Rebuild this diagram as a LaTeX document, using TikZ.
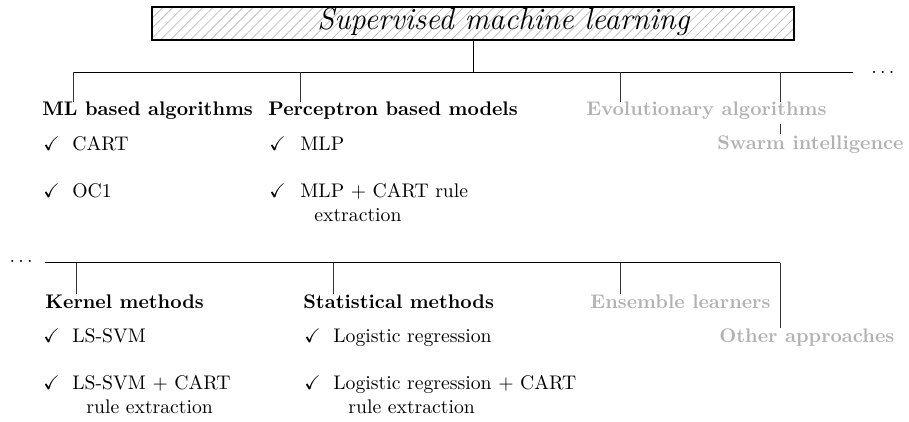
\documentclass[tikz,border=0pt]{standalone}
\usepackage{amssymb}
\usetikzlibrary{patterns.meta}
\begin{document}
\begin{tikzpicture}[x=0.5076pt,y=-0.5076pt,
  lbl/.style={inner sep=0pt,anchor=base west},
  head/.style={lbl,font=\bfseries},
  faded/.style={head,text=black!30},
  busline/.style={line width=0.5pt},
  tickline/.style={line width=0.5pt,black!80},
  dotsnode/.style={inner sep=0pt}]
\useasboundingbox (0,0) rectangle (909,421);
% root
\node[draw,line width=0.6pt,
      pattern={Lines[angle=45,distance=3.6pt,line width=0.4pt]},pattern color=black!25,
      minimum width=642*0.5076pt,minimum height=33*0.5076pt,inner sep=0pt] (root) at (473,23.5) {};
\node[inner sep=0pt,anchor=base west,font=\fontsize{15.6}{18}\selectfont\itshape] (title) at (317,29.5) {Supervised machine learning};
% upper bus
\coordinate (a0) at (73,72.5);
\coordinate (a1) at (300,72.5);
\coordinate (a2) at (620,72.5);
\coordinate (a3) at (780,72.5);
\coordinate (aE) at (853,72.5);
\node[dotsnode,anchor=west] (dotsR) at (871,72.5) {$\ldots$};
% upper headings
\node[head] (ml) at (42,116) {ML based algorithms};
\node[head] (perc) at (268,116) {Perceptron based models};
\node[faded] (evo) at (586,116) {Evolutionary algorithms};
\node[faded] (swarm) at (717,149) {Swarm intelligence};
% upper items
\node[lbl] (c11) at (43,150) {$\checkmark$};
\node[lbl] (i11) at (72,150) {CART};
\node[lbl] (c12) at (43,197.5) {$\checkmark$};
\node[lbl] (i12) at (72,197.5) {OC1};
\node[lbl] (c21) at (269,150) {$\checkmark$};
\node[lbl] (i21) at (300,150) {MLP};
\node[lbl] (c22) at (269,197.5) {$\checkmark$};
\node[lbl] (i22) at (300,197.5) {MLP $+$ CART rule};
\node[lbl] (i22b) at (314,221) {extraction};
% upper connectors
\draw[busline] (root.south) -- (root.south |- a0);
\draw[busline] (a0) -- (aE);
\draw[tickline] (a0) -- (a0 |- ml.north);
\draw[tickline] (a1) -- (a1 |- perc.north);
\draw[tickline] (a2) -- (a2 |- evo.north);
\draw[tickline] (a3) -- (a3 |- evo.north);
\draw[tickline,shorten <=1.6pt,shorten >=0.6pt] (evo.south -| a3) -- (swarm.north -| a3);
% lower bus
\node[dotsnode,anchor=east] (dotsL) at (33,261) {$\ldots$};
\coordinate (b0) at (45,262.5);
\coordinate (b1) at (76,262.5);
\coordinate (b2) at (333,262.5);
\coordinate (b3) at (620,262.5);
\coordinate (b4) at (780,262.5);
% lower headings
\node[head] (kern) at (45,308) {Kernel methods};
\node[head] (stat) at (303,308) {Statistical methods};
\node[faded] (ens) at (590,308) {Ensemble learners};
\node[faded] (oth) at (719,342) {Other approaches};
% lower items
\node[lbl] (c31) at (43,342) {$\checkmark$};
\node[lbl] (i31) at (72,342) {LS-SVM};
\node[lbl] (c32) at (43,389.5) {$\checkmark$};
\node[lbl] (i32) at (72,389.5) {LS-SVM $+$ CART};
\node[lbl] (i32b) at (86,413) {rule extraction};
\node[lbl] (c41) at (304,342) {$\checkmark$};
\node[lbl] (i41) at (333,342) {Logistic regression};
\node[lbl] (c42) at (304,389.5) {$\checkmark$};
\node[lbl] (i42) at (333,389.5) {Logistic regression $+$ CART};
\node[lbl] (i42b) at (348,413) {rule extraction};
% lower connectors
\draw[busline] (b0) -- (b4);
\draw[tickline] (b1) -- (b1 |- kern.north);
\draw[tickline] (b2) -- (b2 |- stat.north);
\draw[tickline] (b3) -- (b3 |- ens.north);
\draw[tickline] (b4) -- (b4 |- oth.north);
\end{tikzpicture}
\end{document}
